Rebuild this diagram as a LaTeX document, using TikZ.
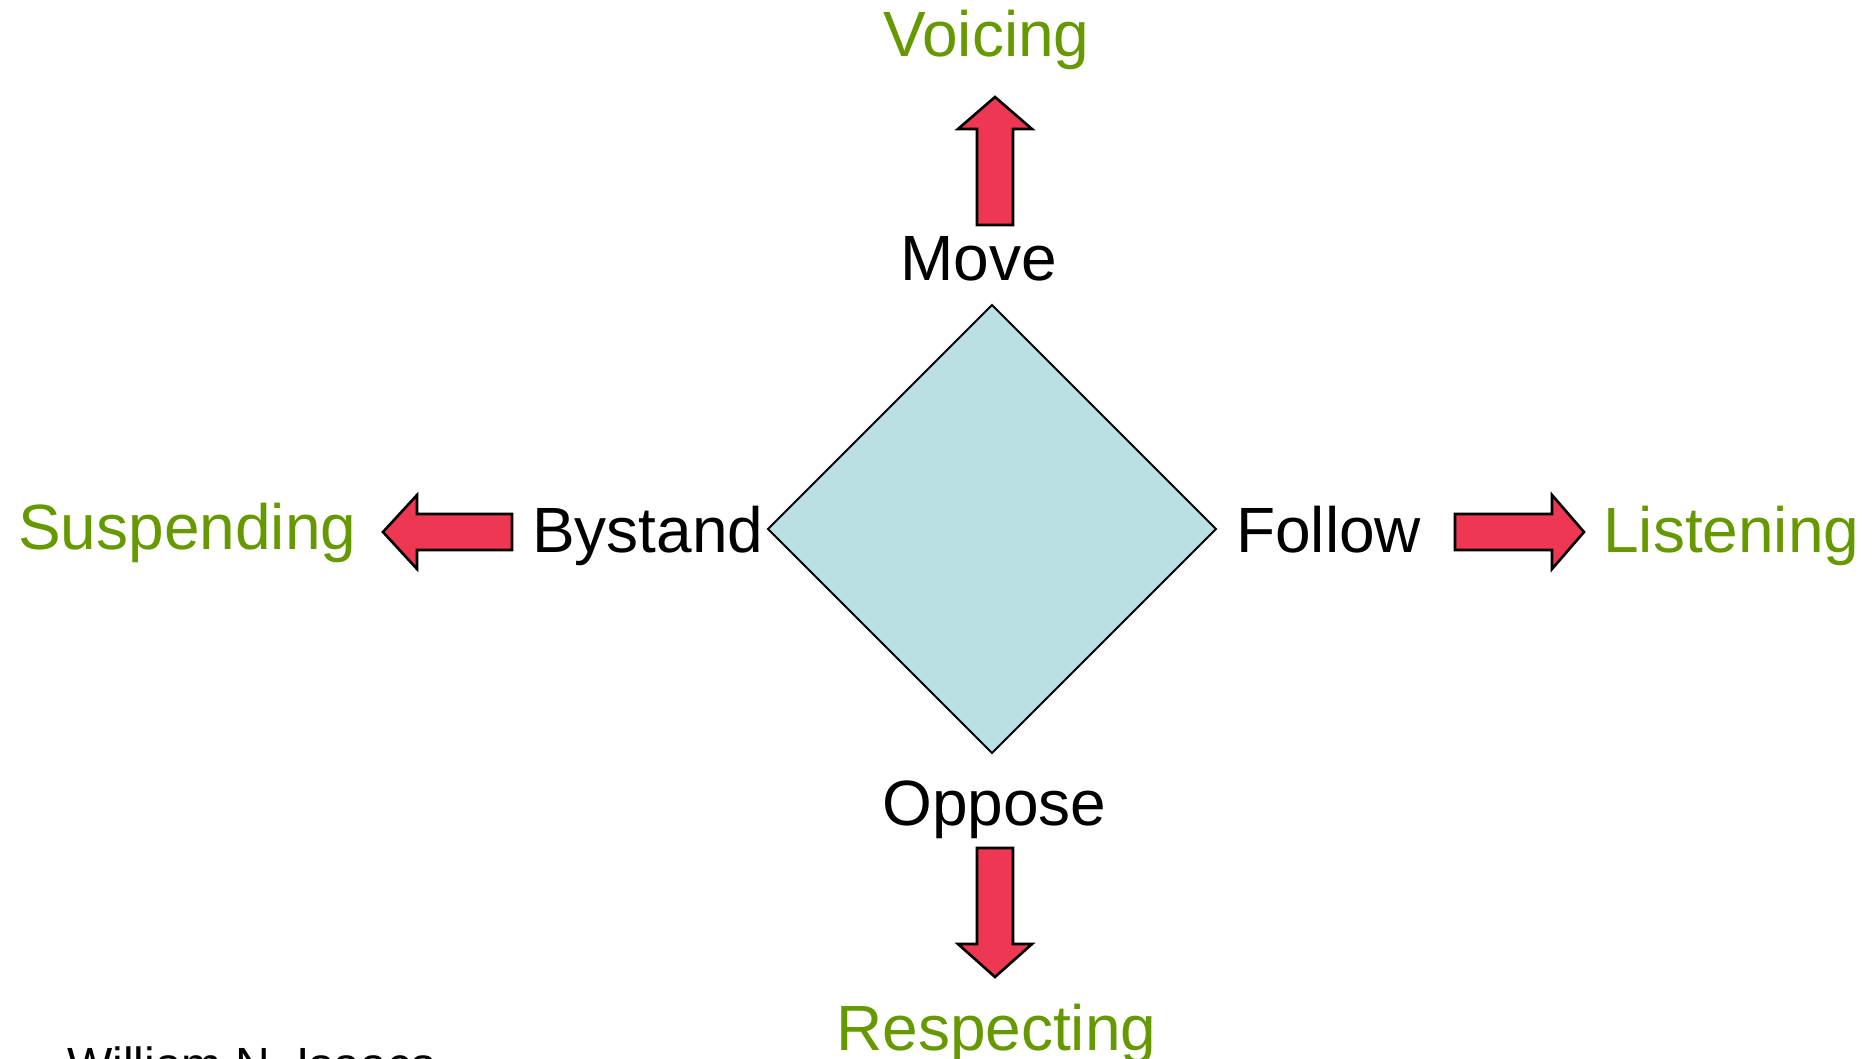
\documentclass[tikz,border=0pt]{standalone}
\usepackage{fontspec}
\setmainfont{Liberation Sans}
\definecolor{lblgreen}{HTML}{669900}
\definecolor{arrred}{HTML}{EE3753}
\definecolor{diafill}{HTML}{BBE0E3}
\tikzset{
  word/.style={anchor=base west, inner sep=0pt, font=\fontsize{64}{72}\selectfont},
  stance/.style={word, text=black},
  practice/.style={word, text=lblgreen},
  blockarrow/.style={draw=black, line width=2.6pt, line join=miter, fill=arrred},
  diamondshape/.style={draw=black, line width=1.8pt, fill=diafill}
}
\begin{document}
\begin{tikzpicture}[x=1pt,y=-1pt]
\useasboundingbox (0,0) rectangle (1876,1059);
% diamond
\draw[diamondshape] (992,305) -- (1216,529) -- (992,753) -- (768,529) -- cycle;
% labels
\node[practice] (voicing) at (883,57) {Voicing};
\node[stance] (move) at (900,280) {Move};
\node[stance] (bystand) at (532,552) {Bystand};
\node[stance] (follow) at (1236,552) {Follow};
\node[practice] (suspending) at (18,549) {Suspending};
\node[practice] (listening) at (1603,552) {Listening};
\node[stance] (oppose) at (882,825) {Oppose};
\node[practice] (respecting) at (836,1050) {Respecting};
\node[anchor=base west, inner sep=0pt, font=\fontsize{48}{56}\selectfont] (author) at (67,1081) {William N. Isaacs};
% up arrow
\draw[blockarrow] (977,225) -- (977,129) -- (958,129) -- (995,97) -- (1032,129) -- (1013,129) -- (1013,225) -- cycle;
% down arrow
\draw[blockarrow] (977,848) -- (977,944) -- (958,944) -- (995,977) -- (1032,944) -- (1013,944) -- (1013,848) -- cycle;
% left arrow
\draw[blockarrow] (512,514) -- (417,514) -- (417,495) -- (383,532) -- (417,569) -- (417,550) -- (512,550) -- cycle;
% right arrow
\draw[blockarrow] (1455,514) -- (1552,514) -- (1552,495) -- (1584,532) -- (1552,569) -- (1552,550) -- (1455,550) -- cycle;
\end{tikzpicture}
\end{document}
